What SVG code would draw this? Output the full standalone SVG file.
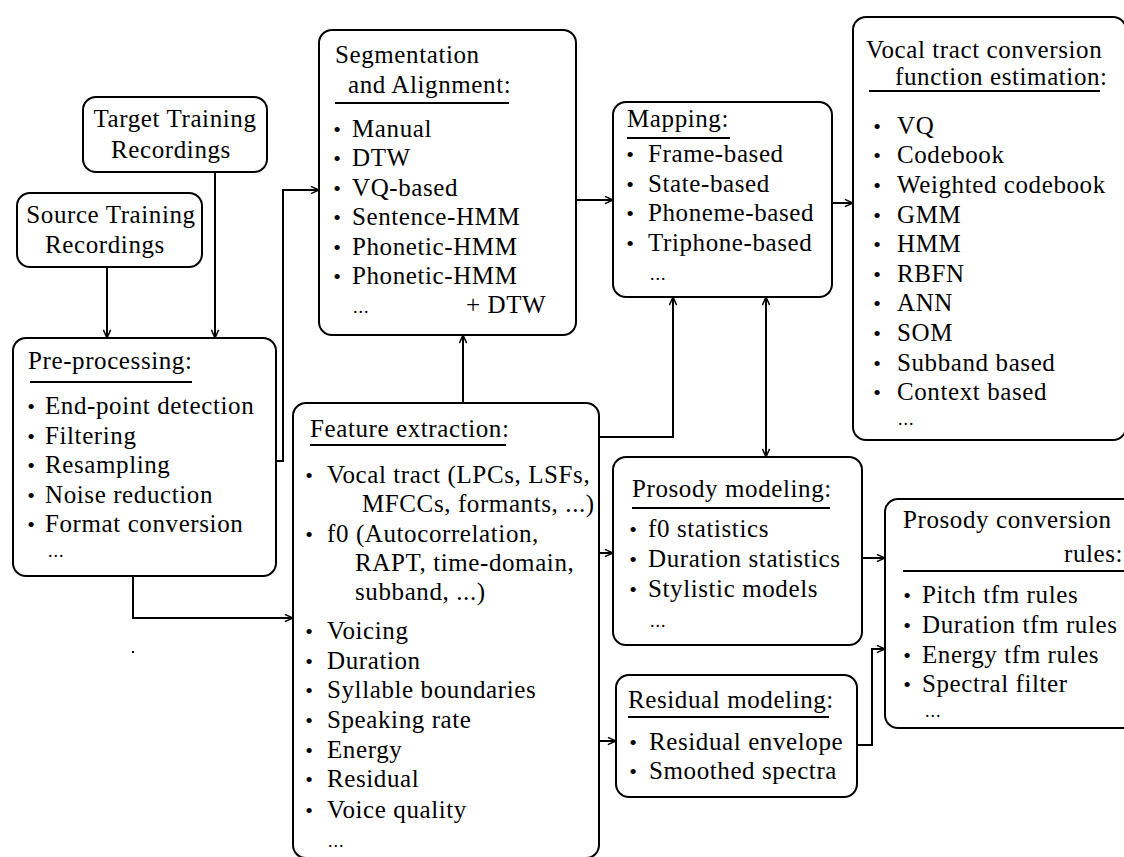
<svg xmlns="http://www.w3.org/2000/svg" width="1124" height="857" viewBox="0 0 1124 857">
<defs>
<style>
.box{fill:#fff;stroke:#000;stroke-width:2}
.ln{fill:none;stroke:#000;stroke-width:2}
.ul{stroke:#000;stroke-width:2}
.t{font-family:"Liberation Serif","Times New Roman",serif;font-size:25px;letter-spacing:0.6px;fill:#000}
.d{font-family:"Liberation Serif","Times New Roman",serif;font-size:18px;letter-spacing:1px;fill:#000}
.c{text-anchor:middle}
.b{font-family:"Liberation Serif","Times New Roman",serif;font-size:22px;text-anchor:middle;fill:#000}
.arr{marker-end:url(#ah)}
</style>
<marker id="ah" viewBox="0 0 10 10" refX="10" refY="5" markerWidth="9" markerHeight="9" markerUnits="userSpaceOnUse" orient="auto-start-reverse">
<path d="M1,1 L10,5 L1,9" fill="none" stroke="#000" stroke-width="1.6"/>
</marker>
</defs>
<rect x="0" y="0" width="1124" height="857" fill="#fff"/>

<g id="connectors">
<path class="ln arr" d="M107,267 V338"/>
<path class="ln arr" d="M215,172 V338"/>
<path class="ln arr" d="M276,461 H283 V190 H319"/>
<path class="ln arr" d="M133,576 V618 H293"/>
<path class="ln arr" d="M463,403 V335"/>
<path class="ln arr" d="M576,200 H613"/>
<path class="ln arr" d="M832,203 H853"/>
<path class="ln arr" d="M599,437 H673 V297"/>
<path class="ln arr" d="M766,297 V457" marker-start="url(#ah)"/>
<path class="ln arr" d="M599,553 H613"/>
<path class="ln arr" d="M599,741 H616"/>
<path class="ln arr" d="M862,558 H885"/>
<path class="ln arr" d="M857,745 H872 V649 H885"/>
</g>
<rect x="132" y="651" width="2" height="2" fill="#000"/>

<g id="target">
<rect class="box" x="83" y="97" width="184" height="75" rx="13"/>
<text class="t c" x="175" y="127">Target Training</text>
<text class="t c" x="171" y="158">Recordings</text>
</g>

<g id="source">
<rect class="box" x="17" y="193" width="185" height="74" rx="13"/>
<text class="t c" x="111" y="223">Source Training</text>
<text class="t c" x="105" y="253">Recordings</text>
</g>

<g id="preprocessing">
<rect class="box" x="13" y="338" width="263" height="238" rx="13"/>
<text class="t" x="28" y="369">Pre-processing:</text>
<line class="ul" x1="30" y1="382" x2="192" y2="382"/>
<text class="b" x="31" y="414">•</text><text class="t" x="45" y="414">End-point detection</text>
<text class="b" x="31" y="444">•</text><text class="t" x="45" y="444">Filtering</text>
<text class="b" x="31" y="473">•</text><text class="t" x="45" y="473">Resampling</text>
<text class="b" x="31" y="503">•</text><text class="t" x="45" y="503">Noise reduction</text>
<text class="b" x="31" y="532">•</text><text class="t" x="45" y="532">Format conversion</text>
<text class="d" x="48" y="557">...</text>
</g>

<g id="segmentation">
<rect class="box" x="319" y="30" width="257" height="305" rx="13"/>
<text class="t" x="335" y="63">Segmentation</text>
<text class="t" x="348" y="93">and Alignment:</text>
<line class="ul" x1="335" y1="103" x2="509" y2="103"/>
<text class="b" x="337" y="137">•</text><text class="t" x="352" y="137">Manual</text>
<text class="b" x="337" y="166">•</text><text class="t" x="352" y="166">DTW</text>
<text class="b" x="337" y="196">•</text><text class="t" x="352" y="196">VQ-based</text>
<text class="b" x="337" y="225">•</text><text class="t" x="352" y="225">Sentence-HMM</text>
<text class="b" x="337" y="255">•</text><text class="t" x="352" y="255">Phonetic-HMM</text>
<text class="b" x="337" y="284">•</text><text class="t" x="352" y="284">Phonetic-HMM</text>
<text class="t" x="466" y="313">+ DTW</text>
<text class="d" x="353" y="313">...</text>
</g>

<g id="mapping">
<rect class="box" x="613" y="102" width="219" height="195" rx="13"/>
<text class="t" x="627" y="127">Mapping:</text>
<line class="ul" x1="627" y1="138" x2="730" y2="138"/>
<text class="b" x="630" y="162">•</text><text class="t" x="648" y="162">Frame-based</text>
<text class="b" x="630" y="192">•</text><text class="t" x="648" y="192">State-based</text>
<text class="b" x="630" y="221">•</text><text class="t" x="648" y="221">Phoneme-based</text>
<text class="b" x="630" y="251">•</text><text class="t" x="648" y="251">Triphone-based</text>
<text class="d" x="650" y="280">...</text>
</g>

<g id="vocaltract">
<rect class="box" x="853" y="17" width="273" height="423" rx="13"/>
<text class="t" x="866" y="58">Vocal tract conversion</text>
<text class="t" x="895" y="85">function estimation:</text>
<line class="ul" x1="869" y1="91" x2="1100" y2="91"/>
<text class="b" x="877" y="134">•</text><text class="t" x="897" y="134">VQ</text>
<text class="b" x="877" y="163">•</text><text class="t" x="897" y="163">Codebook</text>
<text class="b" x="877" y="193">•</text><text class="t" x="897" y="193">Weighted codebook</text>
<text class="b" x="877" y="223">•</text><text class="t" x="897" y="223">GMM</text>
<text class="b" x="877" y="252">•</text><text class="t" x="897" y="252">HMM</text>
<text class="b" x="877" y="282">•</text><text class="t" x="897" y="282">RBFN</text>
<text class="b" x="877" y="311">•</text><text class="t" x="897" y="311">ANN</text>
<text class="b" x="877" y="341">•</text><text class="t" x="897" y="341">SOM</text>
<text class="b" x="877" y="371">•</text><text class="t" x="897" y="371">Subband based</text>
<text class="b" x="877" y="400">•</text><text class="t" x="897" y="400">Context based</text>
<text class="d" x="898" y="425">...</text>
</g>

<g id="feature">
<rect class="box" x="293" y="403" width="306" height="455" rx="13"/>
<text class="t" x="310" y="437">Feature extraction:</text>
<line class="ul" x1="310" y1="445" x2="506" y2="445"/>
<text class="b" x="309" y="483">•</text><text class="t" x="327" y="483">Vocal tract (LPCs, LSFs,</text>
<text class="t" x="362" y="512">MFCCs, formants, ...)</text>
<text class="b" x="309" y="542">•</text><text class="t" x="327" y="542">f0 (Autocorrelation,</text>
<text class="t" x="355" y="571">RAPT, time-domain,</text>
<text class="t" x="355" y="600">subband, ...)</text>
<text class="b" x="309" y="639">•</text><text class="t" x="327" y="639">Voicing</text>
<text class="b" x="309" y="669">•</text><text class="t" x="327" y="669">Duration</text>
<text class="b" x="309" y="698">•</text><text class="t" x="327" y="698">Syllable boundaries</text>
<text class="b" x="309" y="728">•</text><text class="t" x="327" y="728">Speaking rate</text>
<text class="b" x="309" y="758">•</text><text class="t" x="327" y="758">Energy</text>
<text class="b" x="309" y="787">•</text><text class="t" x="327" y="787">Residual</text>
<text class="b" x="309" y="818">•</text><text class="t" x="327" y="818">Voice quality</text>
<text class="d" x="328" y="847">...</text>
</g>

<g id="prosody">
<rect class="box" x="613" y="457" width="249" height="188" rx="13"/>
<text class="t" x="632" y="497">Prosody modeling:</text>
<line class="ul" x1="632" y1="508" x2="830" y2="508"/>
<text class="b" x="633" y="537">•</text><text class="t" x="648" y="537">f0 statistics</text>
<text class="b" x="633" y="567">•</text><text class="t" x="648" y="567">Duration statistics</text>
<text class="b" x="633" y="597">•</text><text class="t" x="648" y="597">Stylistic models</text>
<text class="d" x="650" y="627">...</text>
</g>

<g id="residual">
<rect class="box" x="616" y="675" width="241" height="122" rx="13"/>
<text class="t" x="628" y="708">Residual modeling:</text>
<line class="ul" x1="628" y1="717" x2="829" y2="717"/>
<text class="b" x="633" y="750">•</text><text class="t" x="649" y="750">Residual envelope</text>
<text class="b" x="633" y="779">•</text><text class="t" x="649" y="779">Smoothed spectra</text>
</g>

<g id="prosodyrules">
<rect class="box" x="885" y="499" width="260" height="229" rx="13"/>
<text class="t" x="903" y="528">Prosody conversion</text>
<text class="t" x="1064" y="562">rules:</text>
<line class="ul" x1="903" y1="571" x2="1124" y2="571"/>
<text class="b" x="907" y="603">•</text><text class="t" x="922" y="603">Pitch tfm rules</text>
<text class="b" x="907" y="633">•</text><text class="t" x="922" y="633">Duration tfm rules</text>
<text class="b" x="907" y="663">•</text><text class="t" x="922" y="663">Energy tfm rules</text>
<text class="b" x="907" y="692">•</text><text class="t" x="922" y="692">Spectral filter</text>
<text class="d" x="925" y="717">...</text>
</g>
</svg>
